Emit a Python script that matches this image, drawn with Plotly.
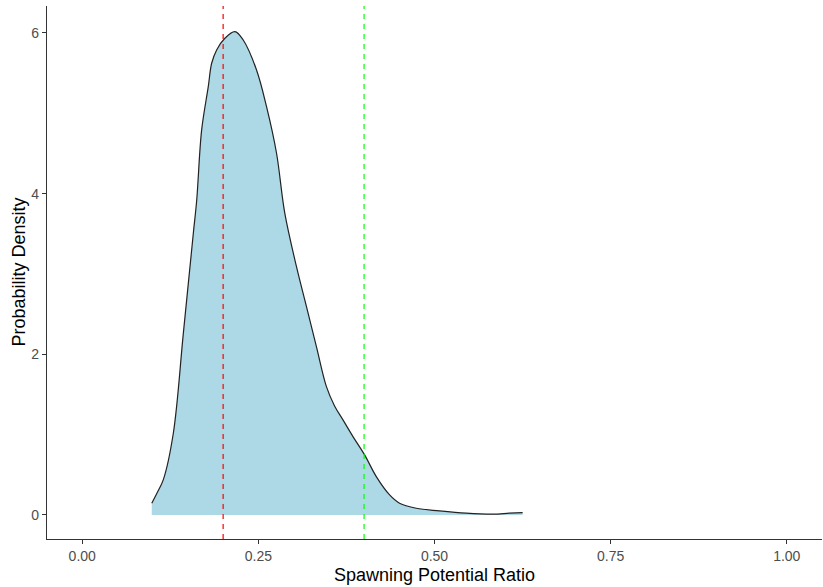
import plotly.graph_objects as go

# Density curve of spawning potential ratio
spr_x = [0.0987, 0.106, 0.115, 0.1293, 0.1435, 0.1577, 0.1625, 0.1695, 0.1789, 0.1837,
         0.1908, 0.2025, 0.2167, 0.2285, 0.2474, 0.2616, 0.2758, 0.2875, 0.3041, 0.3183,
         0.3324, 0.3466, 0.3580, 0.3701, 0.3843, 0.4008, 0.4174, 0.4363, 0.4504, 0.4741,
         0.5071, 0.5449, 0.5826, 0.6062, 0.6251]
density = [0.146, 0.27, 0.436, 1.017, 2.26, 3.507, 3.921, 4.793, 5.332, 5.623,
           5.789, 5.934, 6.017, 5.913, 5.540, 5.083, 4.503, 3.756, 3.091, 2.593,
           2.095, 1.597, 1.36, 1.183, 0.975, 0.747, 0.477, 0.249, 0.146, 0.083,
           0.050, 0.021, 0.009, 0.021, 0.029]

ref_limit = 0.2   # red dashed
ref_target = 0.4  # green dashed

x_ticks = [0, 0.25, 0.5, 0.75, 1.0]
y_ticks = [0, 2, 4, 6]

fig = go.Figure()
fig.add_trace(go.Scatter(
    x=spr_x, y=density, mode="lines", fill="tozeroy",
    fillcolor="#ADD8E6", line=dict(color="#222222", width=1.2, shape="spline", smoothing=1.0),
    showlegend=False, hoverinfo="skip"))

for xv, col in [(ref_limit, "#FF0000"), (ref_target, "#00FF00")]:
    fig.add_shape(type="line", x0=xv, x1=xv, xref="x", y0=0, y1=1, yref="paper",
                  line=dict(color=col, width=1.2, dash="5px,5px"))

font_family = "Liberation Sans, Arial, sans-serif"
fig.add_annotation(text="Spawning Potential Ratio", xref="paper", yref="paper",
                   x=0.5, y=-0.068, xanchor="center", yanchor="middle", showarrow=False,
                   font=dict(size=18, color="black", family=font_family))
fig.add_annotation(text="Probability Density", xref="paper", yref="paper",
                   x=-0.0374, y=0.5, xanchor="center", yanchor="middle", showarrow=False,
                   textangle=-90, font=dict(size=18, color="black", family=font_family))

fig.update_layout(
    width=823, height=587,
    margin=dict(l=47, r=1, t=6, b=48),
    paper_bgcolor="white", plot_bgcolor="white",
    font=dict(family=font_family),
    xaxis=dict(range=[-0.05, 1.05], tickvals=x_ticks, tickformat=".2f", automargin=False,
               showgrid=False, zeroline=False, showline=True, linecolor="#333333", linewidth=1.1,
               ticks="outside", ticklen=4, tickcolor="#333333", tickwidth=1,
               tickfont=dict(size=14, color="#4D4D4D")),
    yaxis=dict(range=[-0.3, 6.336], tickvals=y_ticks, automargin=False,
               showgrid=False, zeroline=False, showline=True, linecolor="#333333", linewidth=1.1,
               ticks="outside", ticklen=4, tickcolor="#333333", tickwidth=1,
               tickfont=dict(size=14, color="#4D4D4D")),
)

fig.write_html("out.html", config={"displayModeBar": False},
               post_script="document.body.style.margin='0';document.body.style.overflow='hidden';")
